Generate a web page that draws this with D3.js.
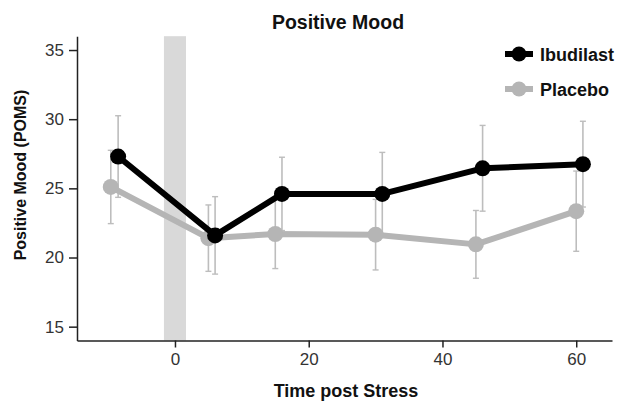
<!DOCTYPE html>
<html>
<head>
<meta charset="utf-8">
<script src="https://cdn.jsdelivr.net/npm/d3@7/dist/d3.min.js"></script>
<style>
  html, body { margin: 0; padding: 0; background: #fff; }
  svg { display: block; }
  text { font-family: "Liberation Sans", Arial, Helvetica, sans-serif; }
</style>
</head>
<body>
<svg id="chart" width="618" height="401"></svg>
<script>
// Positive mood (POMS) after a stress task, ibudilast vs placebo
const seriesNames = ["Ibudilast", "Placebo"];
const ibudilastTime = [-8.5, 6, 16, 31, 46, 61];
const ibudilastMean = [27.3, 21.6, 24.6, 24.6, 26.45, 26.75];
const ibudilastErr  = [2.95, 2.8, 2.65, 3.0, 3.1, 3.1];
const placeboTime   = [-9.6, 5, 15, 30, 45, 60];
const placeboMean   = [25.1, 21.4, 21.7, 21.65, 20.95, 23.35];
const placeboErr    = [2.65, 2.4, 2.5, 2.55, 2.45, 2.9];
const xTicks = [0, 20, 40, 60];
const yTicks = [15, 20, 25, 30, 35];
const stressWindow = [-1.65, 1.65];

const svg = d3.select("#chart");
const x = d3.scaleLinear().domain([-14.65, 65.35]).range([77, 612]);
const y = d3.scaleLinear().domain([14, 36]).range([340.5, 36.2]);

// stress period band
svg.append("rect")
  .attr("x", x(stressWindow[0]))
  .attr("width", x(stressWindow[1]) - x(stressWindow[0]))
  .attr("y", y(36))
  .attr("height", y(14) - y(36))
  .attr("fill", "#d9d9d9");

// axes
const yAxis = svg.append("g")
  .attr("transform", `translate(${x(-14.65)},0)`)
  .call(d3.axisLeft(y).tickValues(yTicks).tickSize(8).tickPadding(5).tickSizeOuter(0));
const xAxis = svg.append("g")
  .attr("transform", `translate(0,${y(14)})`)
  .call(d3.axisBottom(x).tickValues(xTicks).tickSize(7).tickPadding(5).tickSizeOuter(0));
[xAxis, yAxis].forEach(g => {
  g.select(".domain").attr("stroke", "#222").attr("stroke-width", 1.5);
  g.selectAll(".tick line").attr("stroke", "#222").attr("stroke-width", 1.5);
  g.selectAll(".tick text").attr("fill", "#333").style("font-size", "17px");
});

const series = [
  { name: seriesNames[0], t: ibudilastTime, m: ibudilastMean, e: ibudilastErr, color: "#000000" },
  { name: seriesNames[1], t: placeboTime, m: placeboMean, e: placeboErr, color: "#b5b5b5" }
];

// error bars (drawn beneath the lines)
const errColor = "#bdbdbd";
series.forEach(s => {
  const g = svg.append("g");
  s.t.forEach((t, i) => {
    const cx = x(t), lo = y(s.m[i] - s.e[i]), hi = y(s.m[i] + s.e[i]);
    g.append("line").attr("x1", cx).attr("x2", cx).attr("y1", lo).attr("y2", hi)
      .attr("stroke", errColor).attr("stroke-width", 1.6);
    [lo, hi].forEach(v => g.append("line")
      .attr("x1", cx - 3).attr("x2", cx + 3).attr("y1", v).attr("y2", v)
      .attr("stroke", errColor).attr("stroke-width", 1.4));
  });
});

// lines and markers, placebo first so ibudilast sits on top
const line = d3.line().x(d => x(d[0])).y(d => y(d[1]));
[series[1], series[0]].forEach(s => {
  const pts = s.t.map((t, i) => [t, s.m[i]]);
  svg.append("path").datum(pts).attr("d", line)
    .attr("fill", "none").attr("stroke", s.color).attr("stroke-width", 6)
    .attr("stroke-linejoin", "round");
  svg.selectAll(null).data(pts).enter().append("circle")
    .attr("cx", d => x(d[0])).attr("cy", d => y(d[1])).attr("r", 8)
    .attr("fill", s.color);
});

// legend
const legendY = [54, 89];
series.forEach((s, i) => {
  const g = svg.append("g").attr("transform", `translate(0,${legendY[i]})`);
  g.append("line").attr("x1", 505).attr("x2", 533).attr("y1", 0).attr("y2", 0)
    .attr("stroke", s.color).attr("stroke-width", 6);
  g.append("circle").attr("cx", 519).attr("cy", 0).attr("r", 7.5).attr("fill", s.color);
  g.append("text").attr("x", 540).attr("y", 6.5).text(s.name)
    .attr("fill", "#111").style("font-size", "18px").style("font-weight", "bold");
});

// titles
svg.append("text").attr("x", 338).attr("y", 29).attr("text-anchor", "middle")
  .style("font-size", "19.5px").style("font-weight", "bold").attr("fill", "#111")
  .text("Positive Mood");
svg.append("text").attr("x", 346).attr("y", 397).attr("text-anchor", "middle")
  .style("font-size", "18px").style("font-weight", "bold").attr("fill", "#111")
  .text("Time post Stress");
svg.append("text").attr("transform", "translate(26,175) rotate(-90)")
  .attr("text-anchor", "middle")
  .style("font-size", "16px").style("font-weight", "bold").attr("fill", "#111")
  .text("Positive Mood (POMS)");
</script>
</body>
</html>
